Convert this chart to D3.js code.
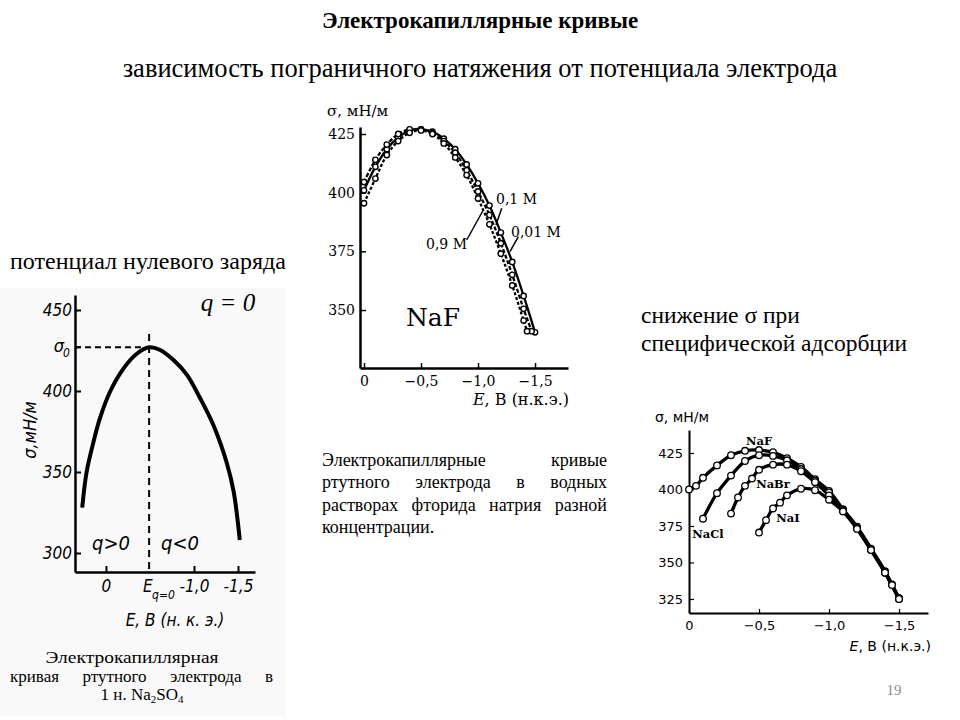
<!DOCTYPE html>
<html><head><meta charset="utf-8">
<script src="https://cdn.jsdelivr.net/npm/d3@7"></script>
<style>body{margin:0;background:#fff}svg{display:block}</style>
</head><body>
<svg id="c" width="960" height="720"></svg>
<script>
// ---------- data ----------
// Left chart: 1 н. Na2SO4
const leftE     = [0.27, 0.22, 0.14, 0.07, -0.05, -0.2, -0.35, -0.49, -0.61, -0.77, -0.92, -1.07, -1.22, -1.37, -1.45, -1.52];
const leftSigma = [328, 350, 369, 383, 400, 414, 423, 427, 425.5, 419, 410, 395.5, 379, 356, 338, 308];
const leftYTicks = [300, 350, 400, 450];
const leftXTicks = [0, -1.0, -1.5];
const leftXLabels = ["0", "-1,0", "-1,5"];
const pzcE = -0.49, sigma0 = 427;

// Middle chart: NaF at different concentrations
const midE    = [0, -0.1, -0.2, -0.3, -0.4, -0.5, -0.6, -0.7, -0.8, -0.9, -1.0, -1.1, -1.2, -1.3, -1.4, -1.5];
const naf001  = [401, 411, 418.5, 423.5, 426.5, 427, 426, 423, 418.5, 412, 404, 394.5, 383, 370.5, 356, 340.5];
const midE01  = [0, -0.1, -0.2, -0.3, -0.4, -0.5, -0.6, -0.7, -0.8, -0.9, -1.0, -1.1, -1.2, -1.3, -1.4, -1.47];
const naf01   = [404.5, 414, 420.5, 425, 427, 427, 425.5, 422, 417, 409.5, 400.5, 390.5, 378.5, 365, 350.5, 341];
const midE09  = [0, -0.1, -0.2, -0.3, -0.4, -0.5, -0.6, -0.7, -0.8, -0.9, -1.0, -1.1, -1.2, -1.3, -1.4, -1.43];
const naf09   = [395.5, 406, 416, 422, 425.5, 426.5, 425, 421, 415, 407.5, 397.5, 386.5, 374, 360.5, 345.5, 341];
const midYTicks = [350, 375, 400, 425];
const midXTicks = [0, -0.5, -1.0, -1.5];
const midXLabels = ["0", "\u22120,5", "\u22121,0", "\u22121,5"];

// Right chart: sodium halides
const rNaFE  = [0, -0.05, -0.1, -0.2, -0.3, -0.4, -0.5, -0.6, -0.7, -0.8, -0.9, -1.0, -1.1, -1.2, -1.3, -1.4, -1.45, -1.5];
const rNaF   = [400, 402.5, 408, 416.5, 423.5, 426.5, 427, 425.5, 421.5, 415.5, 407, 399, 386.5, 374.5, 359.5, 344, 335, 325.5];
const rNaClE = [-0.1, -0.2, -0.3, -0.4, -0.5, -0.6, -0.7, -0.8, -0.9, -1.0, -1.1, -1.2, -1.3, -1.4, -1.45, -1.5];
const rNaCl  = [380, 397.5, 409.5, 419.5, 423.5, 423, 420, 414, 406, 398, 386, 374, 359, 343.5, 334.5, 325.5];
const rNaBrE = [-0.3, -0.35, -0.4, -0.45, -0.5, -0.6, -0.7, -0.8, -0.9, -1.0, -1.1, -1.2, -1.3, -1.4, -1.5];
const rNaBr  = [383.5, 394.5, 402.5, 407.5, 413.5, 417, 417, 412.5, 405, 396, 385.5, 373.5, 358.5, 343, 325];
const rNaIE  = [-0.5, -0.55, -0.6, -0.65, -0.7, -0.8, -0.9, -1.0, -1.1, -1.2, -1.3, -1.4, -1.5];
const rNaI   = [370.5, 379, 387, 391, 396, 400.5, 399.5, 393, 385, 373, 358.5, 343, 325];
const rYTicks = [325, 350, 375, 400, 425];
const rXTicks = [0, -0.5, -1.0, -1.5];
const rXLabels = ["0", "\u22120,5", "\u22121,0", "\u22121,5"];

// ---------- drawing ----------
const svg = d3.select("#c");
const SERIF = "Liberation Serif";
const zip = (a, b) => a.map((v, i) => [v, b[i]]);

function txt(g, x, y, s, o = {}) {
  const t = g.append("text").attr("x", x).attr("y", y).text(s)
    .style("font-family", o.ff || SERIF).style("font-size", (o.fs || 16) + "px")
    .attr("fill", o.fill || "#000");
  if (o.anchor) t.attr("text-anchor", o.anchor);
  if (o.fw) t.style("font-weight", o.fw);
  if (o.fst) t.style("font-style", o.fst);
  return t;
}
function justify(g, words, x0, x1, y, fs) {
  const ts = words.map(w => txt(g, 0, y, w, {fs}));
  const ws = ts.map(t => t.node().getComputedTextLength());
  const sum = d3.sum(ws);
  const gap = words.length > 1 ? (x1 - x0 - sum) / (words.length - 1) : 0;
  let x = x0;
  ts.forEach((t, i) => { t.attr("x", x); x += ws[i] + gap; });
}

// slide texts
txt(svg, 480, 28, "Электрокапиллярные кривые", {fs: 23, fw: "bold", anchor: "middle"});
txt(svg, 480, 77, "зависимость пограничного натяжения от потенциала электрода", {fs: 26.5, anchor: "middle"});
txt(svg, 10, 269, "потенциал нулевого заряда", {fs: 24});
txt(svg, 641, 323, "снижение σ при", {fs: 23.5});
txt(svg, 641, 351, "специфической адсорбции", {fs: 23.5});
txt(svg, 894, 695, "19", {fs: 15, fill: "#8c8c8c", anchor: "middle"});

// caption middle
const cap = svg.append("g");
justify(cap, ["Электрокапиллярные", "кривые"], 322, 607, 466, 18);
justify(cap, ["ртутного", "электрода", "в", "водных"], 322, 607, 488, 18);
justify(cap, ["растворах", "фторида", "натрия", "разной"], 322, 607, 511, 18);
txt(cap, 322, 533, "концентрации.", {fs: 18});

// ---------- left chart ----------
const L = svg.append("g");
L.append("rect").attr("x", 0).attr("y", 288).attr("width", 286).attr("height", 428).attr("fill", "#f9f9f9");
const xL = d3.scaleLinear().domain([0.352, -1.693]).range([75, 255]);
const yL = d3.scaleLinear().domain([288.27, 459.26]).range([572, 295]);
const HAND = "DejaVu Sans Condensed, DejaVu Sans, sans-serif";
const ax1 = L.append("g").attr("transform", "translate(75,0)")
  .call(d3.axisLeft(yL).tickValues(leftYTicks).tickSize(-6).tickSizeOuter(0).tickPadding(3));
ax1.select(".domain").attr("stroke-width", 2.5);
ax1.selectAll(".tick line").attr("stroke-width", 2);
ax1.selectAll(".tick text").style("font-family", HAND).style("font-style", "italic").style("font-size", "17px");
const ax2 = L.append("g").attr("transform", "translate(0,572)")
  .call(d3.axisBottom(xL).tickValues(leftXTicks).tickSize(-6).tickSizeOuter(0).tickPadding(8)
    .tickFormat((d, i) => leftXLabels[i]));
ax2.select(".domain").attr("stroke-width", 2.5);
ax2.selectAll(".tick line").attr("stroke-width", 2);
ax2.selectAll(".tick text").style("font-family", HAND).style("font-style", "italic").style("font-size", "17px");
// sigma0 tick
L.append("line").attr("x1", 75).attr("x2", 81).attr("y1", yL(sigma0)).attr("y2", yL(sigma0)).attr("stroke", "#000").attr("stroke-width", 2);
txt(L, 64, yL(sigma0) + 5, "σ", {ff: HAND, fs: 18, fst: "italic", anchor: "end"});
txt(L, 63, yL(sigma0) + 10, "0", {ff: HAND, fs: 12, fst: "italic"});
// dashed guides
L.append("line").attr("x1", 75).attr("x2", xL(pzcE)).attr("y1", yL(sigma0)).attr("y2", yL(sigma0))
  .attr("stroke", "#000").attr("stroke-width", 2).attr("stroke-dasharray", "6,4");
L.append("line").attr("x1", xL(pzcE)).attr("x2", xL(pzcE)).attr("y1", 334).attr("y2", 572)
  .attr("stroke", "#000").attr("stroke-width", 2).attr("stroke-dasharray", "7,5");
// curve
L.append("path").datum(zip(leftE, leftSigma))
  .attr("d", d3.line().x(d => xL(d[0])).y(d => yL(d[1])).curve(d3.curveCatmullRom))
  .attr("fill", "none").attr("stroke", "#000").attr("stroke-width", 4);
// labels
txt(L, 0, 0, "σ,мН/м", {ff: HAND, fs: 18, fst: "italic", anchor: "middle"})
  .attr("transform", "translate(36,430) rotate(-90)");
txt(L, 228, 311, "q = 0", {fs: 25, fst: "italic", anchor: "middle"});
txt(L, 111, 550, "q>0", {ff: HAND, fs: 20, fst: "italic", anchor: "middle"});
txt(L, 180, 550, "q<0", {ff: HAND, fs: 20, fst: "italic", anchor: "middle"});
txt(L, xL(pzcE) - 6, 592, "E", {ff: HAND, fs: 17, fst: "italic"});
txt(L, xL(pzcE) + 3, 599, "q=0", {ff: HAND, fs: 12, fst: "italic"});
txt(L, 175, 626, "E, B (н. к. э.)", {ff: HAND, fs: 17, fst: "italic", anchor: "middle"});
// caption
txt(L, 132, 663, "Электрокапиллярная", {fs: 17.5, anchor: "middle"}).attr("textLength", 173).attr("lengthAdjust", "spacingAndGlyphs");
justify(L, ["кривая", "ртутного", "электрода", "в"], 10, 273, 682, 17);
const c3 = txt(L, 142, 700, "1 н. Na", {fs: 17, anchor: "middle"});
c3.append("tspan").style("font-size", "11px").attr("dy", 3).text("2");
c3.append("tspan").attr("dy", -3).text("SO");
c3.append("tspan").style("font-size", "11px").attr("dy", 3).text("4");

// ---------- middle chart ----------
const M = svg.append("g");
const xM = d3.scaleLinear().domain([0.035, -1.789]).range([360, 568]);
const yM = d3.scaleLinear().domain([325.3, 427.98]).range([368, 127]);
const MF = "DejaVu Serif";
const mx1 = M.append("g").attr("transform", "translate(360,0)")
  .call(d3.axisLeft(yM).tickValues(midYTicks).tickSize(-6).tickSizeOuter(0).tickPadding(5));
mx1.select(".domain").attr("stroke-width", 2.5);
mx1.selectAll(".tick line").attr("stroke-width", 1.5);
mx1.selectAll(".tick text").style("font-family", MF).style("font-size", "14px");
const mx2 = M.append("g").attr("transform", "translate(0,368)")
  .call(d3.axisBottom(xM).tickValues(midXTicks).tickSize(-5).tickSizeOuter(0).tickPadding(8)
    .tickFormat((d, i) => midXLabels[i]));
mx2.select(".domain").attr("stroke-width", 2.5);
mx2.selectAll(".tick line").attr("stroke-width", 1.5);
mx2.selectAll(".tick text").style("font-family", MF).style("font-size", "14px");
const lineM = d3.line().x(d => xM(d[0])).y(d => yM(d[1])).curve(d3.curveCatmullRom);
const midSeries = [
  {e: midE, s: naf001, dash: null},
  {e: midE01, s: naf01, dash: "4,2"},
  {e: midE09, s: naf09, dash: "3,2"}
];
midSeries.forEach(ser => {
  const p = M.append("path").datum(zip(ser.e, ser.s)).attr("d", lineM)
    .attr("fill", "none").attr("stroke", "#000").attr("stroke-width", 2.3);
  if (ser.dash) p.attr("stroke-dasharray", ser.dash);
});
midSeries.forEach(ser => {
  M.selectAll(null).data(zip(ser.e, ser.s)).enter().append("circle")
    .attr("cx", d => xM(d[0])).attr("cy", d => yM(d[1])).attr("r", 2.7)
    .attr("fill", "#fff").attr("stroke", "#000").attr("stroke-width", 1.4);
});
txt(M, 327, 116, "σ, мН/м", {ff: MF, fs: 15});
txt(M, 433, 326, "NaF", {ff: MF, fs: 25, anchor: "middle"});
txt(M, 496, 204, "0,1 M", {ff: MF, fs: 14});
txt(M, 511, 237, "0,01 M", {ff: MF, fs: 14});
txt(M, 426, 249, "0,9 M", {ff: MF, fs: 14});
[[501.7, 208.3, 496, 225], [518.3, 236.7, 510, 251.7], [466.7, 240, 483.3, 210]].forEach(l =>
  M.append("line").attr("x1", l[0]).attr("y1", l[1]).attr("x2", l[2]).attr("y2", l[3])
    .attr("stroke", "#000").attr("stroke-width", 1.5));
const xl = txt(M, 569, 405, "", {ff: MF, fs: 16, anchor: "end"});
xl.append("tspan").style("font-style", "italic").text("E");
xl.append("tspan").text(", В (н.к.э.)");

// ---------- right chart ----------
const R = svg.append("g");
const xR = d3.scaleLinear().domain([0, -1.707]).range([689, 928]);
const yR = d3.scaleLinear().domain([315.4, 440.75]).range([613, 430]);
const RF = "DejaVu Sans";
const rx1 = R.append("g").attr("transform", "translate(689,0)")
  .call(d3.axisLeft(yR).tickValues(rYTicks).tickSize(-5).tickSizeOuter(0).tickPadding(6));
rx1.select(".domain").attr("stroke-width", 2);
rx1.selectAll(".tick line").attr("stroke-width", 1.2);
rx1.selectAll(".tick text").style("font-family", RF).style("font-size", "13px");
const rx2 = R.append("g").attr("transform", "translate(0,613)")
  .call(d3.axisBottom(xR).tickValues(rXTicks).tickSize(-4).tickSizeOuter(0).tickPadding(8)
    .tickFormat((d, i) => rXLabels[i]));
rx2.select(".domain").attr("stroke-width", 2);
rx2.selectAll(".tick line").attr("stroke-width", 1.2);
rx2.selectAll(".tick text").style("font-family", RF).style("font-size", "13px");
const lineR = d3.line().x(d => xR(d[0])).y(d => yR(d[1])).curve(d3.curveCatmullRom);
const rSeries = [[rNaFE, rNaF], [rNaClE, rNaCl], [rNaBrE, rNaBr], [rNaIE, rNaI]];
rSeries.forEach(s => R.append("path").datum(zip(s[0], s[1])).attr("d", lineR)
  .attr("fill", "none").attr("stroke", "#000").attr("stroke-width", 3.3));
rSeries.forEach(s => R.selectAll(null).data(zip(s[0], s[1])).enter().append("circle")
  .attr("cx", d => xR(d[0])).attr("cy", d => yR(d[1])).attr("r", 3.3)
  .attr("fill", "#fff").attr("stroke", "#000").attr("stroke-width", 1.3));
txt(R, 655, 422, "σ, мН/м", {ff: RF, fs: 14});
txt(R, 759, 445, "NaF", {ff: MF, fs: 11.5, fw: "bold", anchor: "middle"});
txt(R, 773, 488, "NaBr", {ff: MF, fs: 11.5, fw: "bold", anchor: "middle"});
txt(R, 708, 538, "NaCl", {ff: MF, fs: 11.5, fw: "bold", anchor: "middle"});
txt(R, 788, 522, "NaI", {ff: MF, fs: 11.5, fw: "bold", anchor: "middle"});
const xr = txt(R, 931, 651, "", {ff: RF, fs: 14, anchor: "end"});
xr.append("tspan").style("font-style", "italic").text("E");
xr.append("tspan").text(", В (н.к.э.)");
</script>
</body></html>
